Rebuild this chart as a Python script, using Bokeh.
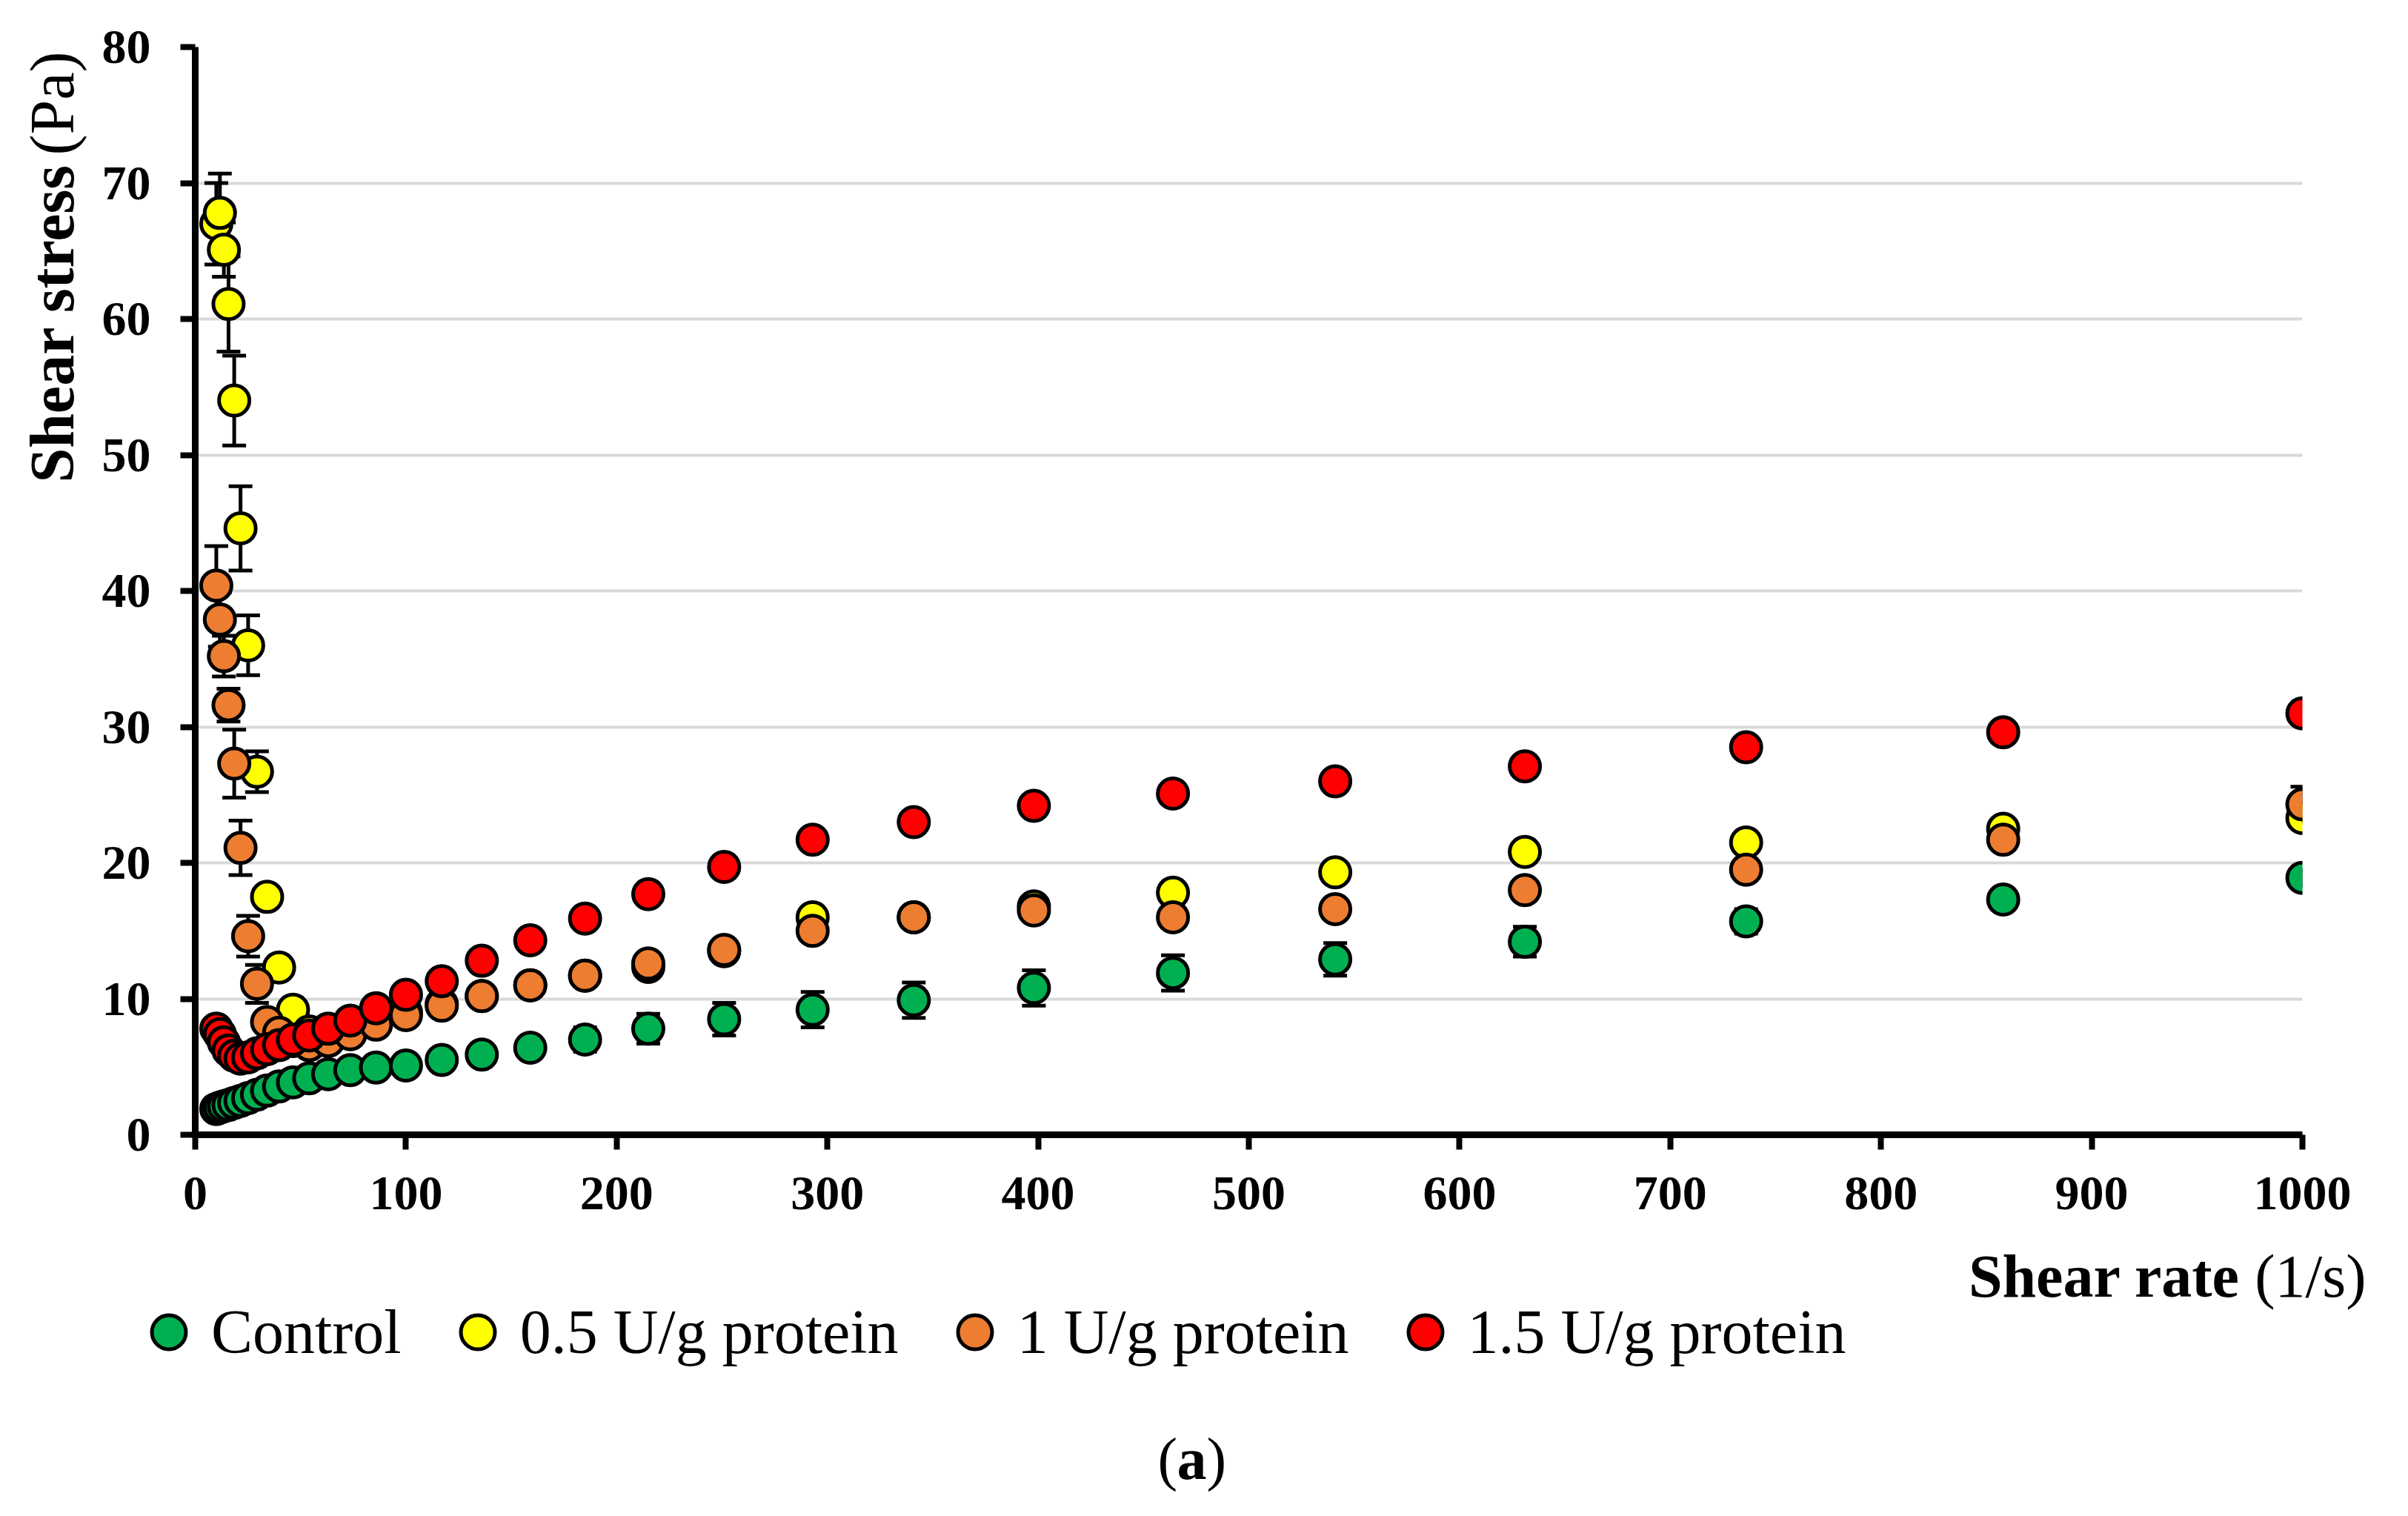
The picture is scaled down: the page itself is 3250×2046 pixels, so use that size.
from bokeh.plotting import figure
from bokeh.layouts import row, column
from bokeh.models import (ColumnDataSource, Whisker, TeeHead, Legend, LegendItem,
                          FixedTicker, Range1d)
from bokeh.core.properties import value
from bokeh.embed import file_html
from bokeh.resources import INLINE

# ---------------- data ----------------
shear_rate = [10, 11.7, 13.6, 15.8, 18.5, 21.5, 25.1, 29.3, 34.1, 39.8, 46.4, 54.1,
              63.1, 73.6, 85.8, 100, 117, 136, 159, 185, 215, 251, 293, 341, 398,
              464, 541, 631, 736, 858, 1000]

control = [1.9, 2.0, 2.1, 2.2, 2.35, 2.5, 2.7, 2.95, 3.25, 3.55, 3.85, 4.15, 4.45,
           4.75, 4.95, 5.1, 5.5, 5.9, 6.4, 7.0, 7.8, 8.5, 9.2, 9.9, 10.8, 11.9, 12.9,
           14.2, 15.7, 17.3, 18.9]
control_err = [0, 0, 0, 0, 0, 0, 0, 0, 0, 0, 0, 0, 0, 0, 0, 0.4, 0.4, 0.5, 0.7, 0.9,
               1.1, 1.2, 1.3, 1.3, 1.3, 1.3, 1.2, 1.1, 0.9, 0.7, 0.6]

u05 = [67.0, 67.8, 65.1, 61.1, 54.0, 44.6, 36.0, 26.7, 17.5, 12.3, 9.2, 7.6, 7.6,
       7.9, 8.4, 9.0, 9.6, 10.2, 11.0, 11.7, 12.35, 13.5, 16.0, 16.0, 16.8, 17.8,
       19.3, 20.8, 21.5, 22.5, 23.3]
u05_err = [3.0, 2.9, 2.0, 3.5, 3.3, 3.1, 2.2, 1.5, 0.6, 0.5, 0.4, 0, 0, 0, 0, 0, 0,
           0, 0, 0, 0, 0, 0, 0, 0, 0, 0, 0, 0, 0, 0]

u10 = [40.4, 37.9, 35.2, 31.6, 27.3, 21.1, 14.6, 11.1, 8.3, 7.5, 6.9, 6.6, 6.9, 7.4,
       8.1, 8.8, 9.5, 10.2, 11.0, 11.7, 12.6, 13.6, 15.0, 16.0, 16.5, 16.0, 16.6,
       18.0, 19.5, 21.7, 24.3]
u10_err = [2.9, 2.0, 1.5, 1.2, 2.5, 2.0, 1.5, 1.4, 0.6, 0, 0, 0, 0, 0, 0, 0, 0, 0,
           0, 0, 0, 0, 0, 0, 0, 0, 0, 0, 0, 0, 1.3]

u15 = [7.8, 7.4, 6.8, 6.2, 5.8, 5.6, 5.7, 6.0, 6.3, 6.6, 7.0, 7.3, 7.8, 8.4, 9.3,
       10.3, 11.3, 12.8, 14.3, 15.9, 17.7, 19.7, 21.7, 23.0, 24.2, 25.1, 26.0, 27.1,
       28.5, 29.6, 31.0]

series_names = ["Control", "0.5 U/g protein", "1 U/g protein", "1.5 U/g protein"]
series_colors = ["#00B050", "#FFFF00", "#ED7D31", "#FF0000"]

x_ticks = [0, 100, 200, 300, 400, 500, 600, 700, 800, 900, 1000]
y_ticks = [0, 10, 20, 30, 40, 50, 60, 70, 80]

x_title_bold, x_title_unit = "Shear rate", "(1/s)"
y_title_bold, y_title_unit = "Shear stress", "(Pa)"

FONT = "Liberation Serif"

# ---------------- layout sizes (pixels) ----------------
TOTAL_W, TOTAL_H = 3234, 2030
LEFT_W = 128                 # strip holding the y-axis title
TOP_H = 1660                 # height of the plot row
BOTTOM_H = TOTAL_H - TOP_H   # strip with x title, legend, caption
MAIN_W = TOTAL_W - LEFT_W
FRAME_W, FRAME_H = 2844, 1468
BORDER_L, BORDER_T = 135, 63


def blank_fig(w, h):
    f = figure(width=w, height=h, output_backend="svg", toolbar_location=None,
               x_range=Range1d(0, w), y_range=Range1d(0, h),
               min_border=0, min_border_left=0, min_border_right=0,
               min_border_top=0, min_border_bottom=0)
    f.axis.visible = False
    f.grid.visible = False
    f.outline_line_color = None
    f.background_fill_color = "white"
    f.border_fill_color = "white"
    return f


# ---------------- main plot ----------------
p = figure(width=MAIN_W, height=TOP_H, output_backend="svg", toolbar_location=None,
           x_range=Range1d(0, 1000), y_range=Range1d(0, 80),
           min_border_left=BORDER_L, min_border_right=MAIN_W - BORDER_L - FRAME_W,
           min_border_top=BORDER_T, min_border_bottom=TOP_H - BORDER_T - FRAME_H)
p.outline_line_color = None
p.background_fill_color = "white"
p.border_fill_color = "white"

p.xaxis.ticker = FixedTicker(ticks=x_ticks)
p.yaxis.ticker = FixedTicker(ticks=y_ticks)
for ax in (p.xaxis[0], p.yaxis[0]):
    ax.axis_line_width = 9
    ax.axis_line_color = "black"
    ax.major_tick_line_width = 8
    ax.major_tick_line_color = "black"
    ax.major_tick_in = 0
    ax.minor_tick_line_color = None
    ax.major_label_text_font = FONT
    ax.major_label_text_font_style = "bold"
    ax.major_label_text_font_size = "66px"
    ax.major_label_text_color = "black"
p.xaxis.major_tick_out = 20
p.yaxis.major_tick_out = 20
p.xaxis.major_label_standoff = 37
p.yaxis.major_label_standoff = 40

p.xgrid.grid_line_color = None
p.ygrid.grid_line_color = "#d9d9d9"
p.ygrid.grid_line_width = 4

all_vals = [control, u05, u10, u15]
all_errs = [control_err, u05_err, u10_err, None]
for vals, errs, color in zip(all_vals, all_errs, series_colors):
    if errs is not None:
        xs = [x for x, e in zip(shear_rate, errs) if e > 0]
        ys = [v for v, e in zip(vals, errs) if e > 0]
        es = [e for e in errs if e > 0]
        src_e = ColumnDataSource(dict(x=xs, upper=[y + e for y, e in zip(ys, es)],
                                      lower=[y - e for y, e in zip(ys, es)]))
        wh = Whisker(source=src_e, base="x", upper="upper", lower="lower",
                     dimension="height", line_width=5, line_color="black",
                     upper_head=TeeHead(size=32, line_width=5, line_color="black"),
                     lower_head=TeeHead(size=32, line_width=5, line_color="black"),
                     level="underlay")
        p.add_layout(wh)
    src = ColumnDataSource(dict(x=shear_rate, y=vals))
    p.scatter("x", "y", source=src, marker="circle", size=41,
              fill_color=color, line_color="black", line_width=5)

# ---------------- y-axis title strip ----------------
ly = blank_fig(LEFT_W, TOP_H)
ly.text(x=[70], y=[TOP_H - 665], text=[y_title_bold], angle=1.5707963,
        text_font=value(FONT), text_font_style="bold", text_font_size="84px",
        text_align="left", text_baseline="alphabetic", text_color="black")
ly.text(x=[70], y=[TOP_H - 165], text=[y_title_unit], angle=1.5707963,
        text_font=value(FONT), text_font_style="normal", text_font_size="84px",
        text_align="left", text_baseline="alphabetic", text_color="black")

# ---------------- bottom strip: x title, legend, caption ----------------
bt = blank_fig(TOTAL_W, BOTTOM_H)
# x-axis title
bt.text(x=[3023], y=[TOTAL_H - 1722], text=[x_title_bold],
        text_font=value(FONT), text_font_style="bold", text_font_size="82px",
        text_align="right", text_baseline="alphabetic", text_color="black")
bt.text(x=[3193], y=[TOTAL_H - 1722], text=[x_title_unit],
        text_font=value(FONT), text_font_style="normal", text_font_size="82px",
        text_align="right", text_baseline="alphabetic", text_color="black")

# legend: proxy renderers (no visible data) carrying the series styles
G = 115
nan = float("nan")
proxies = []
for color in series_colors:
    r = bt.scatter(x=[nan], y=[nan], marker="circle", size=41, fill_color=color,
                   line_color="black", line_width=5)
    proxies.append(r)
legend = Legend(items=[LegendItem(label=n, renderers=[r])
                       for n, r in zip(series_names, proxies)],
                orientation="horizontal",
                location=(170, (TOTAL_H - 1797) - G / 2),
                glyph_width=G, glyph_height=G, label_standoff=0, spacing=45,
                padding=0, margin=0, border_line_color=None,
                background_fill_alpha=0,
                label_text_font=FONT, label_text_font_size="84px",
                label_text_color="black")
bt.add_layout(legend, "center")

# caption "(a)"
cap_y = TOTAL_H - 1968
bt.text(x=[1562], y=[cap_y], text=["("], text_font=value(FONT),
        text_font_size="80px", text_align="left", text_baseline="alphabetic",
        text_color="black")
bt.text(x=[1588], y=[cap_y], text=["a"], text_font=value(FONT),
        text_font_style="bold", text_font_size="80px", text_align="left",
        text_baseline="alphabetic", text_color="black")
bt.text(x=[1628], y=[cap_y], text=[")"], text_font=value(FONT),
        text_font_size="80px", text_align="left", text_baseline="alphabetic",
        text_color="black")

layout = column(row(ly, p, spacing=0), bt, spacing=0)

open("out.html", "w").write(file_html(layout, INLINE))
